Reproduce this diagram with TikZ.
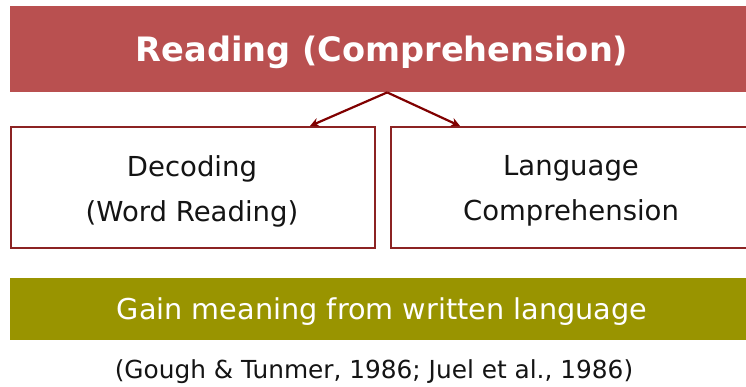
\documentclass[tikz,border=0pt]{standalone}
\usepackage{fontspec}
\setmainfont{DejaVu Sans}
\usetikzlibrary{arrows.meta}
\definecolor{barred}{RGB}{185,80,80}
\definecolor{boxred}{RGB}{140,35,35}
\definecolor{arrred}{RGB}{128,0,0}
\definecolor{olive}{RGB}{153,148,0}
\definecolor{txt}{RGB}{20,20,20}
\tikzset{
  bar/.style={draw=none, inner sep=0pt, anchor=north west},
  framebox/.style={draw=boxred, line width=2pt, fill=white, inner sep=0pt, anchor=north west, minimum height=121pt},
  boxtext/.style={align=center, text=txt, font=\fontsize{27.5}{45}\selectfont},
  link/.style={draw=arrred, line width=2.2pt, -{Stealth[length=9pt,width=9pt]}}
}
\begin{document}
\begin{tikzpicture}[x=1pt,y=-1pt]
\useasboundingbox (0,0) rectangle (746,386);
\fill[white] (0,0) rectangle (746,386);
\node[bar, fill=barred, minimum width=746pt, minimum height=86pt] (top) at (10,6) {};
\node[text=white, font=\fontsize{33.6}{40}\bfseries\selectfont] (toptext) at (382,52) {Reading (Comprehension)};
\node[framebox, minimum width=364pt] (left) at (10,126) {};
\node[framebox, minimum width=370pt] (right) at (390,126) {};
\node[boxtext] (lefttext) at (192,191) {Decoding\\(Word Reading)};
\node[boxtext] (righttext) at (571,191) {Language\\Comprehension};
\coordinate (apex) at ([xshift=4pt]top.south);
\draw[link] (apex) -- ([xshift=117pt]left.north);
\draw[link] (apex) -- ([xshift=-116pt]right.north);
\node[bar, fill=olive, minimum width=746pt, minimum height=62pt] (gain) at (10,278) {};
\node[text=white, font=\fontsize{28.7}{33}\selectfont] (gaintext) at (382,312) {Gain meaning from written language};
\node[text=txt, font=\fontsize{24.8}{30}\selectfont] (cite) at (374,372) {(Gough \& Tunmer, 1986; Juel et al., 1986)};
\end{tikzpicture}
\end{document}
